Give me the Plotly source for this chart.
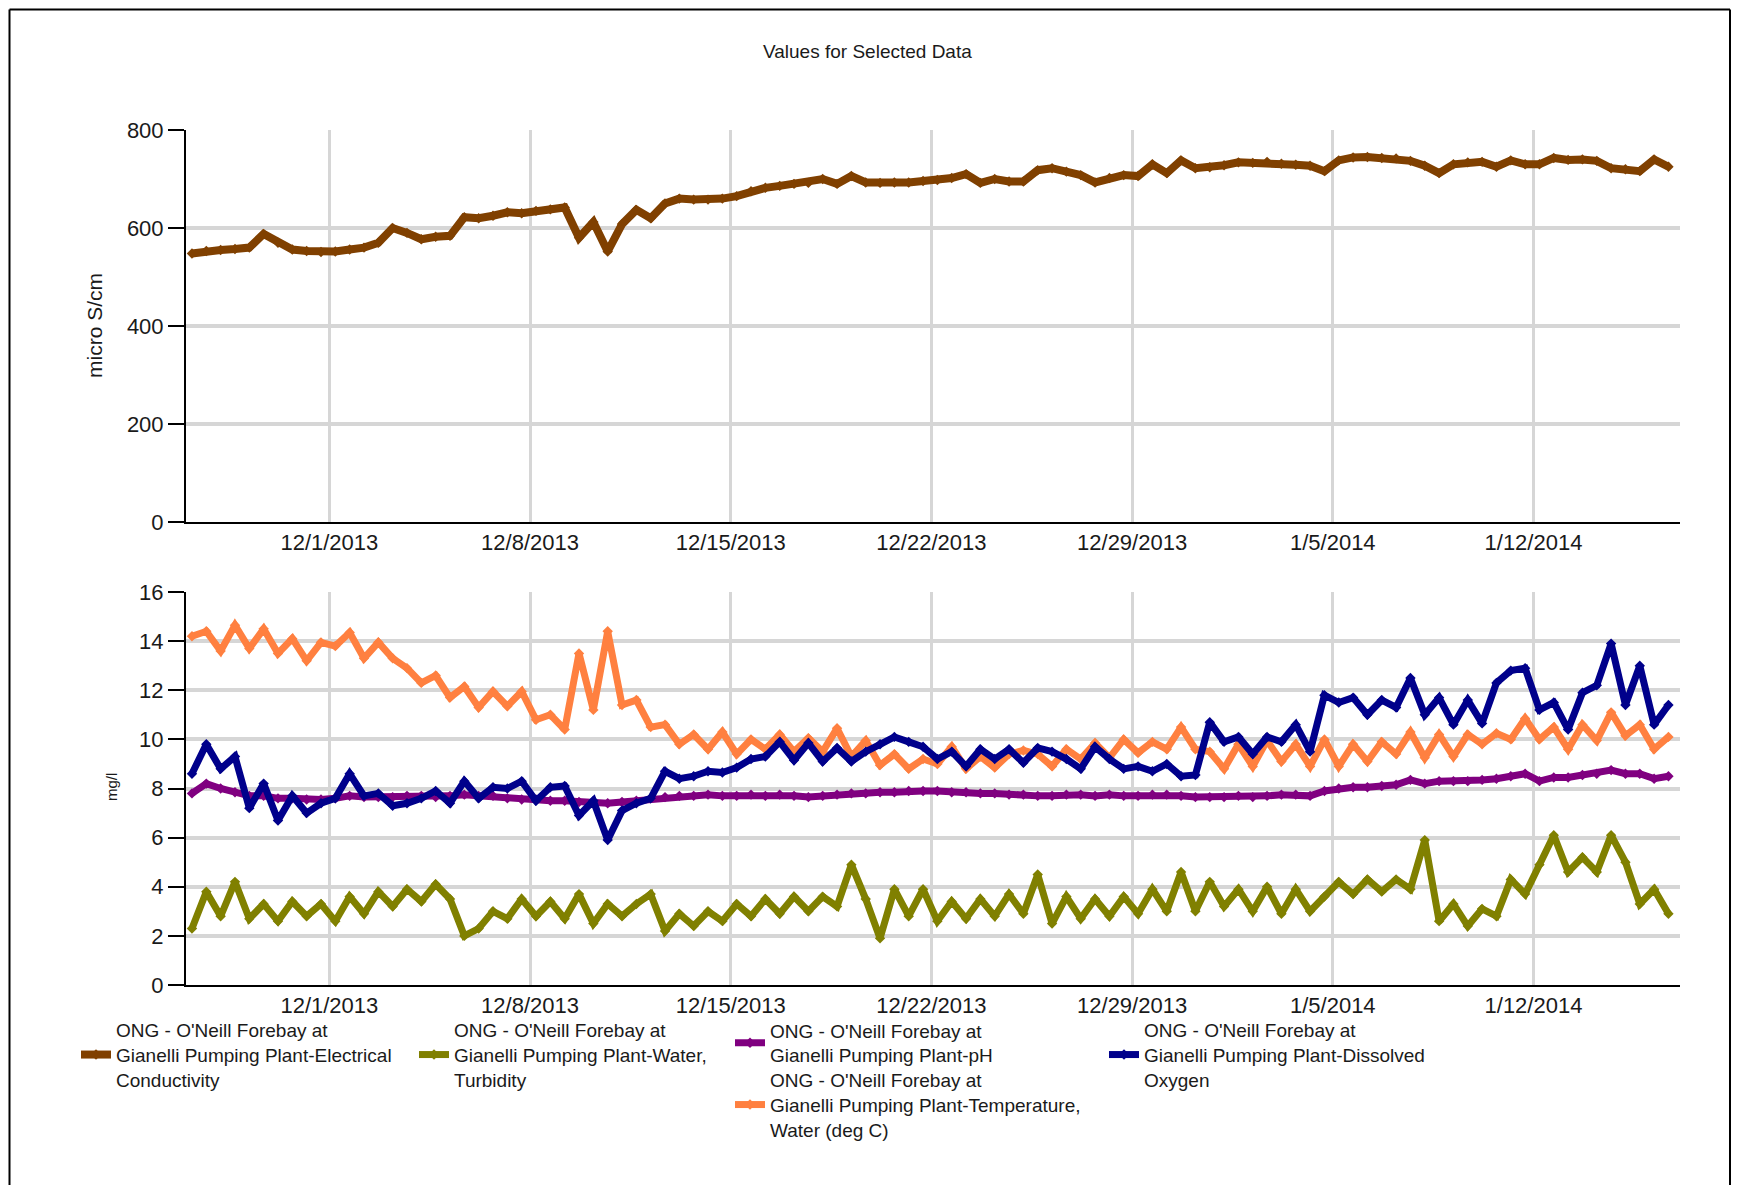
import pandas as pd
import plotly.graph_objects as go

# ---------------- data ----------------
TIMES = pd.date_range("2013-11-26 05:00", periods=104, freq="12h")

EC = [548, 553, 555, 557, 560, 588, 570, 556, 553, 551,
      552, 556, 560, 570, 600, 590, 577, 582, 584, 622,
      620, 625, 632, 630, 635, 638, 642, 580, 612, 552,
      608, 637, 620, 650, 660, 658, 658, 660, 665, 675,
      682, 686, 690, 692, 700, 690, 706, 693, 692, 693,
      693, 696, 698, 702, 710, 692, 700, 695, 695, 718,
      722, 715, 708, 693, 702, 708, 706, 730, 712, 738,
      722, 724, 728, 734, 733, 735, 731, 729, 727, 716,
      738, 744, 745, 743, 742, 737, 727, 712, 730, 734,
      735, 725, 738, 730, 730, 743, 739, 740, 737, 722,
      720, 716, 740, 725]

TURBIDITY = [2.3, 3.8, 2.8, 4.2, 2.7, 3.3, 2.6, 3.4, 2.8, 3.3,
             2.6, 3.6, 2.9, 3.8, 3.2, 3.9, 3.4, 4.1, 3.5, 2.0,
             2.3, 3.0, 2.7, 3.5, 2.8, 3.4, 2.7, 3.7, 2.5, 3.3,
             2.8, 3.3, 3.7, 2.2, 2.9, 2.4, 3.0, 2.6, 3.3, 2.8,
             3.5, 2.9, 3.6, 3.0, 3.6, 3.2, 4.9, 3.5, 1.9, 3.9,
             2.8, 3.9, 2.6, 3.4, 2.7, 3.5, 2.8, 3.7, 2.9, 4.5,
             2.5, 3.6, 2.7, 3.5, 2.8, 3.6, 2.9, 3.9, 3.0, 4.6,
             3.0, 4.2, 3.2, 3.9, 3.0, 4.0, 2.9, 3.9, 3.0, 3.6,
             4.2, 3.7, 4.3, 3.8, 4.3, 3.9, 5.9, 2.6, 3.3, 2.4,
             3.1, 2.8, 4.3, 3.7, 4.9, 6.1, 4.6, 5.2, 4.6, 6.1,
             5.0, 3.3, 3.9, 2.9]

PH = [7.8, 8.2, 8.0, 7.85, 7.7, 7.7, 7.6, 7.6, 7.55, 7.55,
      7.6, 7.7, 7.65, 7.65, 7.65, 7.7, 7.7, 7.65, 7.7, 7.75,
      7.7, 7.7, 7.6, 7.55, 7.55, 7.5, 7.5, 7.45, 7.45, 7.4,
      7.45, 7.5, 7.6, 7.65, 7.7, 7.7, 7.75, 7.7, 7.7, 7.75,
      7.7, 7.75, 7.7, 7.65, 7.7, 7.75, 7.8, 7.8, 7.85, 7.85,
      7.9, 7.9, 7.9, 7.85, 7.85, 7.8, 7.8, 7.75, 7.75, 7.7,
      7.7, 7.75, 7.75, 7.7, 7.75, 7.7, 7.7, 7.75, 7.75, 7.7,
      7.65, 7.65, 7.65, 7.7, 7.65, 7.7, 7.75, 7.75, 7.7, 7.9,
      8.0, 8.05, 8.05, 8.1, 8.15, 8.35, 8.2, 8.3, 8.3, 8.3,
      8.35, 8.4, 8.5, 8.6, 8.3, 8.45, 8.45, 8.55, 8.6, 8.75,
      8.6, 8.6, 8.4, 8.5]

TEMPERATURE = [14.2, 14.4, 13.6, 14.65, 13.7, 14.5, 13.5, 14.1, 13.2, 13.95,
               13.8, 14.35, 13.3, 13.95, 13.3, 12.9, 12.3, 12.6, 11.7, 12.15,
               11.3, 11.95, 11.35, 11.95, 10.8, 11.0, 10.4, 13.5, 11.2, 14.4,
               11.4, 11.6, 10.5, 10.6, 9.8, 10.2, 9.6, 10.3, 9.4, 10.0,
               9.6, 10.2, 9.5, 10.05, 9.5, 10.45, 9.3, 9.95, 8.95, 9.4,
               8.8, 9.2, 9.0, 9.7, 8.8, 9.3, 8.85, 9.4, 9.55, 9.4,
               8.9, 9.6, 9.2, 9.85, 9.25, 10.0, 9.45, 9.9, 9.6, 10.5,
               9.6, 9.5, 8.8, 9.8, 8.9, 9.95, 9.1, 9.8, 8.9, 10.0,
               8.9, 9.8, 9.1, 9.9, 9.4, 10.3, 9.25, 10.2, 9.3, 10.2,
               9.8, 10.25, 10.0, 10.85, 10.0, 10.5, 9.6, 10.6, 9.95, 11.1,
               10.15, 10.6, 9.6, 10.1]

DISSOLVED_OXYGEN = [8.6, 9.8, 8.8, 9.3, 7.2, 8.2, 6.7, 7.7, 7.0, 7.4,
                    7.6, 8.6, 7.7, 7.8, 7.3, 7.4, 7.6, 7.9, 7.4, 8.3,
                    7.6, 8.05, 8.0, 8.3, 7.5, 8.05, 8.1, 6.9, 7.5, 5.9,
                    7.1, 7.4, 7.6, 8.7, 8.4, 8.5, 8.7, 8.65, 8.85, 9.2,
                    9.3, 9.9, 9.15, 9.85, 9.1, 9.65, 9.1, 9.5, 9.8, 10.1,
                    9.9, 9.7, 9.2, 9.5, 8.9, 9.6, 9.2, 9.6, 9.05, 9.65,
                    9.5, 9.2, 8.8, 9.7, 9.2, 8.8, 8.9, 8.7, 9.0, 8.5,
                    8.55, 10.7, 9.9, 10.1, 9.4, 10.1, 9.9, 10.6, 9.5, 11.8,
                    11.5, 11.7, 11.0, 11.6, 11.3, 12.5, 11.0, 11.7, 10.6, 11.6,
                    10.65, 12.3, 12.8, 12.9, 11.2, 11.5, 10.4, 11.9, 12.2, 13.9,
                    11.4, 13.0, 10.6, 11.4]

TICK_DATES = ["2013-12-01", "2013-12-08", "2013-12-15", "2013-12-22",
              "2013-12-29", "2014-01-05", "2014-01-12"]
TICK_LABELS = ["12/1/2013", "12/8/2013", "12/15/2013", "12/22/2013",
               "12/29/2013", "1/5/2014", "1/12/2014"]

NAME_EC = "ONG - O'Neill Forebay at<br>Gianelli Pumping Plant-Electrical<br>Conductivity"
NAME_TURB = "ONG - O'Neill Forebay at<br>Gianelli Pumping Plant-Water,<br>Turbidity"
NAME_PH = "ONG - O'Neill Forebay at<br>Gianelli Pumping Plant-pH"
NAME_DO = "ONG - O'Neill Forebay at<br>Gianelli Pumping Plant-Dissolved<br>Oxygen"
NAME_TEMP = "ONG - O'Neill Forebay at<br>Gianelli Pumping Plant-Temperature,<br>Water (deg C)"

# ---------------- styling ----------------
W, H = 1739, 1185
OFF = 8  # page body margin
FONT = "Liberation Sans, Arial, sans-serif"
TXT = "#1a1a1a"
C_EC = "#804000"
C_TURB = "#808000"
C_PH = "#800080"
C_TEMP = "#FF8040"
C_DO = "#00008B"


def px_x(p):
    return (p - OFF) / W


def px_y(p):
    return 1 - (p - OFF) / H


fig = go.Figure()


def add(y, name, color, xa, ya, legend, width):
    fig.add_trace(go.Scatter(
        x=TIMES, y=y, name=name, mode="lines+markers",
        line=dict(color=color, width=width),
        marker=dict(color=color, size=8, symbol="diamond"),
        xaxis=xa, yaxis=ya, legend=legend))


add(EC, NAME_EC, C_EC, "x", "y", "legend", 8)
add(TURBIDITY, NAME_TURB, C_TURB, "x2", "y2", "legend2", 7)
add(PH, NAME_PH, C_PH, "x2", "y2", "legend3", 7)
add(TEMPERATURE, NAME_TEMP, C_TEMP, "x2", "y2", "legend5", 7)
add(DISSOLVED_OXYGEN, NAME_DO, C_DO, "x2", "y2", "legend4", 7)

xr = ["2013-11-26 00:00", "2014-01-17 02:40"]
xdom = [px_x(186), px_x(1680)]
grid = "#d6d6d6"
common_x = dict(range=xr, domain=xdom, tickvals=TICK_DATES, ticktext=TICK_LABELS,
                showgrid=True, gridcolor=grid, gridwidth=3, showline=True,
                linecolor="#000", linewidth=2, ticks="", zeroline=False,
                automargin=False,
                tickfont=dict(family=FONT, size=22, color=TXT))
common_y = dict(showgrid=True, gridcolor=grid, gridwidth=4, showline=True,
                linecolor="#000", linewidth=2, ticks="outside", ticklen=16,
                tickwidth=2, tickcolor="#000", zeroline=False, automargin=False,
                tickfont=dict(family=FONT, size=22, color=TXT))

leg = dict(font=dict(family=FONT, size=19, color=TXT), bgcolor="rgba(0,0,0,0)",
           xanchor="left", yanchor="middle", valign="middle", itemwidth=30,
           borderwidth=0, itemclick=False, itemdoubleclick=False)

fig.update_layout(
    width=W, height=H,
    margin=dict(l=0, r=0, t=0, b=0, pad=0, autoexpand=False),
    paper_bgcolor="white", plot_bgcolor="white",
    xaxis=dict(anchor="y", **common_x),
    yaxis=dict(anchor="x", domain=[px_y(522), px_y(130)], range=[0, 800],
               tickvals=[0, 200, 400, 600, 800], **common_y),
    xaxis2=dict(anchor="y2", **common_x),
    yaxis2=dict(anchor="x2", domain=[px_y(985), px_y(592)], range=[0, 16],
                tickvals=[0, 2, 4, 6, 8, 10, 12, 14, 16], **common_y),
    legend=dict(x=px_x(76), y=px_y(1055), **leg),
    legend2=dict(x=px_x(414), y=px_y(1055), **leg),
    legend3=dict(x=px_x(730), y=px_y(1043), **leg),
    legend4=dict(x=px_x(1104), y=px_y(1055), **leg),
    legend5=dict(x=px_x(730), y=px_y(1105), **leg),
    showlegend=True,
)

fig.add_annotation(text="Values for Selected Data", x=px_x(867), y=px_y(51),
                   xref="paper", yref="paper", showarrow=False,
                   xanchor="center", yanchor="middle",
                   font=dict(family=FONT, size=19, color=TXT))
fig.add_annotation(text="micro S/cm", x=px_x(94), y=px_y(326), xref="paper", yref="paper",
                   showarrow=False, textangle=-90, xanchor="center", yanchor="middle",
                   font=dict(family=FONT, size=21, color=TXT))
fig.add_annotation(text="mg/l", x=px_x(111), y=px_y(787), xref="paper", yref="paper",
                   showarrow=False, textangle=-90, xanchor="center", yanchor="middle",
                   font=dict(family=FONT, size=15, color=TXT))

# outer frame of the chart (kept inside the figure area)
FX0, FY0, FX1 = OFF + 1.5, OFF + 1.5, 1730
for x0, y0, x1, y1 in [(FX0, FY0, FX1, FY0), (FX0, FY0, FX0, 1200), (FX1, FY0, FX1, 1200)]:
    fig.add_shape(type="line", xref="paper", yref="paper",
                  x0=px_x(x0), y0=px_y(y0), x1=px_x(x1), y1=px_y(y1),
                  line=dict(color="#000", width=2))

fig.write_html("out.html")
